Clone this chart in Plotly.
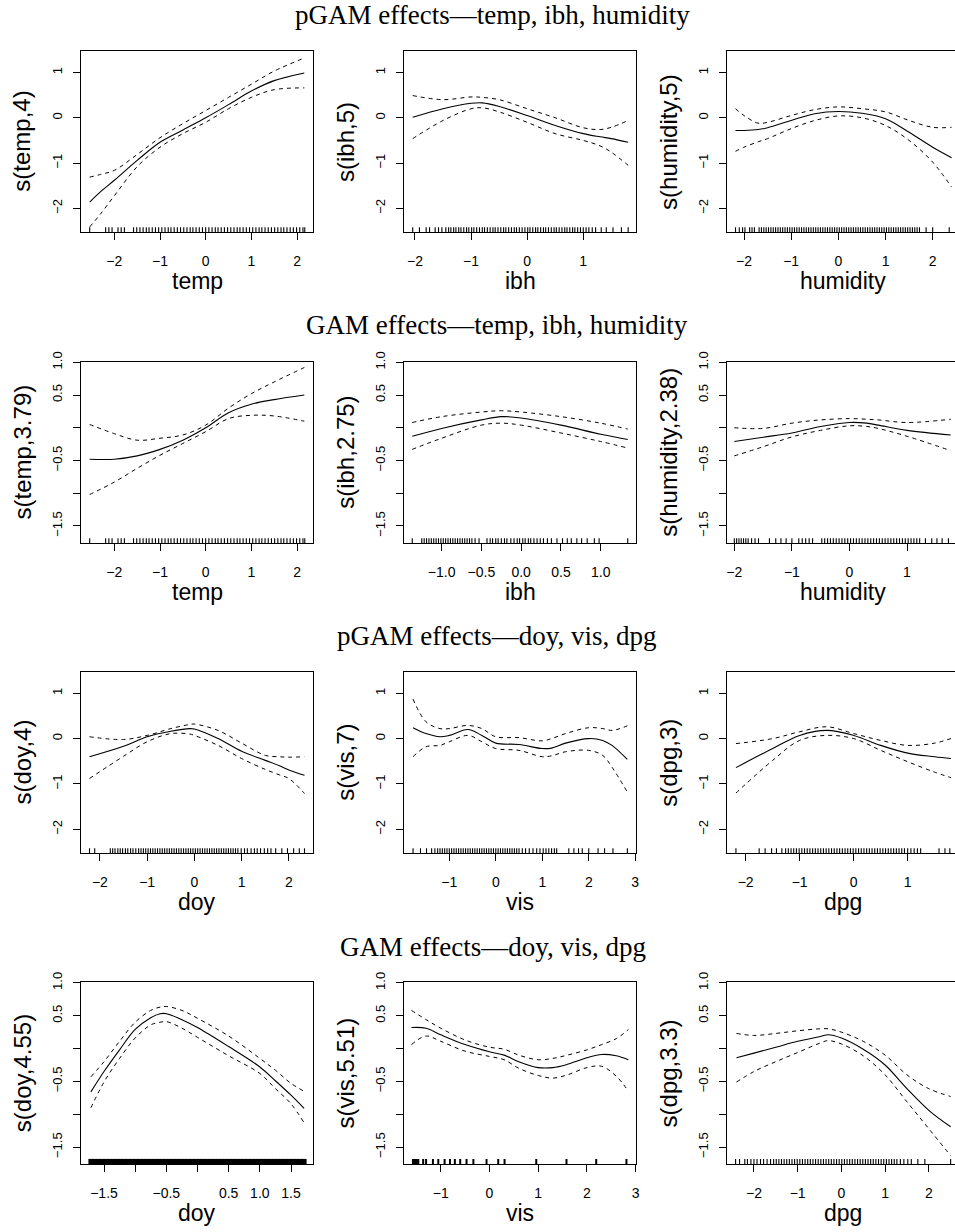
import plotly.graph_objects as go

W, H = 955, 1232

# ---------------- titles / labels ----------------
row_titles = ["pGAM effects\u2014temp, ibh, humidity",
              "GAM effects\u2014temp, ibh, humidity",
              "pGAM effects\u2014doy, vis, dpg",
              "GAM effects\u2014doy, vis, dpg"]
x_labels = [["temp", "ibh", "humidity"], ["temp", "ibh", "humidity"],
            ["doy", "vis", "dpg"], ["doy", "vis", "dpg"]]
y_labels = [["s(temp,4)", "s(ibh,5)", "s(humidity,5)"],
            ["s(temp,3.79)", "s(ibh,2.75)", "s(humidity,2.38)"],
            ["s(doy,4)", "s(vis,7)", "s(dpg,3)"],
            ["s(doy,4.55)", "s(vis,5.51)", "s(dpg,3.3)"]]

# ---------------- tick values ----------------
y_ticks_pgam = [-2, -1, 0, 1]
y_ticktext_pgam = ["\u22122", "\u22121", "0", "1"]
y_ticks_gam = [-1.5, -1.0, -0.5, 0.0, 0.5, 1.0]
y_ticktext_gam = ["\u22121.5", "", "\u22120.5", "", "0.5", "1.0"]

# ---------------- row 1: pGAM temp, ibh, humidity ----------------
temp_p_x = [-2.54, -2.3, -2.0, -1.5, -1.0, -0.5, 0.0, 0.5, 1.0, 1.5, 2.16]
temp_p_fit = [-1.86, -1.63, -1.38, -0.94, -0.54, -0.27, 0.0, 0.29, 0.59, 0.82, 0.99]
temp_p_up = [-1.31, -1.25, -1.16, -0.81, -0.44, -0.13, 0.16, 0.45, 0.74, 1.03, 1.32]
temp_p_lo = [-2.41, -2.12, -1.72, -1.08, -0.65, -0.35, -0.10, 0.20, 0.45, 0.62, 0.66]

ibh_p_x = [-2.04, -1.5, -1.0, -0.8, -0.5, 0.0, 0.5, 1.0, 1.3, 1.5, 1.8]
ibh_p_fit = [0.01, 0.20, 0.32, 0.33, 0.25, 0.05, -0.17, -0.35, -0.42, -0.46, -0.54]
ibh_p_up = [0.49, 0.40, 0.46, 0.45, 0.40, 0.20, 0.0, -0.22, -0.26, -0.21, -0.06]
ibh_p_lo = [-0.46, -0.06, 0.20, 0.22, 0.13, -0.10, -0.35, -0.50, -0.62, -0.76, -1.05]

hum_p_x = [-2.18, -2.0, -1.7, -1.5, -1.0, -0.5, 0.0, 0.5, 1.0, 1.5, 2.0, 2.4]
hum_p_fit = [-0.28, -0.28, -0.26, -0.22, -0.06, 0.09, 0.14, 0.10, -0.02, -0.32, -0.65, -0.88]
hum_p_up = [0.20, 0.05, -0.12, -0.10, 0.05, 0.18, 0.24, 0.20, 0.13, -0.06, -0.21, -0.21]
hum_p_lo = [-0.74, -0.65, -0.53, -0.46, -0.24, -0.06, 0.04, 0.0, -0.17, -0.50, -0.98, -1.53]

# ---------------- row 2: GAM temp, ibh, humidity ----------------
temp_g_x = [-2.54, -2.0, -1.5, -1.0, -0.5, 0.0, 0.5, 1.0, 1.5, 2.16]
temp_g_fit = [-0.48, -0.48, -0.43, -0.33, -0.19, 0.0, 0.23, 0.36, 0.43, 0.50]
temp_g_up = [0.05, -0.09, -0.19, -0.16, -0.11, 0.04, 0.30, 0.52, 0.70, 0.92]
temp_g_lo = [-1.02, -0.83, -0.62, -0.42, -0.24, -0.06, 0.14, 0.19, 0.18, 0.10]

ibh_g_x = [-1.37, -1.0, -0.5, -0.25, 0.0, 0.5, 1.0, 1.34]
ibh_g_fit = [-0.13, -0.01, 0.12, 0.17, 0.15, 0.04, -0.10, -0.18]
ibh_g_up = [0.08, 0.17, 0.24, 0.26, 0.24, 0.17, 0.07, -0.02]
ibh_g_lo = [-0.33, -0.16, 0.04, 0.07, 0.04, -0.08, -0.21, -0.31]

hum_g_x = [-2.0, -1.5, -1.0, -0.5, 0.0, 0.3, 0.5, 1.0, 1.76]
hum_g_fit = [-0.21, -0.145, -0.08, 0.02, 0.08, 0.07, 0.04, -0.04, -0.11]
hum_g_up = [0.0, -0.01, 0.07, 0.12, 0.14, 0.13, 0.12, 0.08, 0.13]
hum_g_lo = [-0.43, -0.29, -0.14, -0.04, 0.03, 0.02, -0.01, -0.13, -0.35]

# ---------------- row 3: pGAM doy, vis, dpg ----------------
doy_p_x = [-2.22, -1.5, -1.0, -0.5, -0.1, 0.0, 0.5, 1.0, 1.5, 1.8, 2.0, 2.33]
doy_p_fit = [-0.40, -0.17, 0.04, 0.16, 0.22, 0.21, 0.0, -0.28, -0.48, -0.60, -0.69, -0.81]
doy_p_up = [0.04, -0.02, 0.07, 0.22, 0.31, 0.32, 0.18, -0.10, -0.37, -0.40, -0.41, -0.40]
doy_p_lo = [-0.88, -0.39, -0.07, 0.11, 0.10, 0.07, -0.15, -0.44, -0.68, -0.80, -0.88, -1.21]

vis_p_x = [-1.78, -1.5, -1.2, -1.0, -0.6, -0.3, 0.0, 0.5, 1.0, 1.2, 1.5, 2.0, 2.3, 2.5, 2.83]
vis_p_fit = [0.24, 0.11, 0.04, 0.07, 0.20, 0.07, -0.10, -0.13, -0.22, -0.21, -0.10, 0.0, -0.04, -0.15, -0.46]
vis_p_up = [0.87, 0.37, 0.22, 0.22, 0.29, 0.22, 0.04, 0.02, -0.05, 0.0, 0.11, 0.24, 0.22, 0.18, 0.28]
vis_p_lo = [-0.40, -0.18, -0.15, -0.07, 0.07, -0.07, -0.22, -0.26, -0.40, -0.38, -0.29, -0.26, -0.37, -0.63, -1.18]

dpg_p_x = [-2.18, -1.5, -1.0, -0.5, 0.0, 0.5, 1.0, 1.5, 1.8]
dpg_p_fit = [-0.64, -0.22, 0.07, 0.18, 0.07, -0.15, -0.32, -0.40, -0.44]
dpg_p_up = [-0.11, 0.0, 0.15, 0.26, 0.11, -0.04, -0.15, -0.10, 0.0]
dpg_p_lo = [-1.20, -0.48, -0.04, 0.07, 0.0, -0.26, -0.51, -0.74, -0.86]

# ---------------- row 4: GAM doy, vis, dpg ----------------
doy_g_x = [-1.71, -1.5, -1.25, -1.0, -0.75, -0.6, -0.5, -0.25, 0.0, 0.5, 1.0, 1.25, 1.5, 1.71]
doy_g_fit = [-0.66, -0.35, -0.02, 0.29, 0.47, 0.53, 0.53, 0.44, 0.32, 0.03, -0.28, -0.49, -0.71, -0.91]
doy_g_up = [-0.43, -0.20, 0.11, 0.40, 0.58, 0.63, 0.64, 0.58, 0.46, 0.19, -0.15, -0.33, -0.53, -0.65]
doy_g_lo = [-0.90, -0.51, -0.15, 0.16, 0.36, 0.40, 0.41, 0.31, 0.17, -0.11, -0.38, -0.61, -0.84, -1.13]

vis_g_x = [-1.6, -1.3, -1.0, -0.5, 0.0, 0.3, 0.6, 1.0, 1.3, 1.6, 2.0, 2.3, 2.6, 2.85]
vis_g_fit = [0.32, 0.31, 0.21, 0.06, -0.05, -0.10, -0.20, -0.29, -0.29, -0.24, -0.14, -0.09, -0.11, -0.17]
vis_g_up = [0.58, 0.44, 0.31, 0.13, 0.02, -0.01, -0.10, -0.17, -0.15, -0.10, -0.02, 0.06, 0.15, 0.29]
vis_g_lo = [0.06, 0.19, 0.11, -0.04, -0.12, -0.17, -0.30, -0.41, -0.45, -0.40, -0.29, -0.27, -0.42, -0.65]

dpg_g_x = [-2.4, -2.0, -1.5, -1.0, -0.5, -0.3, 0.0, 0.5, 1.0, 1.5, 2.0, 2.5]
dpg_g_fit = [-0.14, -0.07, 0.02, 0.11, 0.18, 0.21, 0.16, -0.01, -0.25, -0.61, -0.94, -1.19]
dpg_g_up = [0.23, 0.20, 0.23, 0.27, 0.30, 0.30, 0.25, 0.11, -0.10, -0.40, -0.61, -0.73]
dpg_g_lo = [-0.51, -0.35, -0.20, -0.06, 0.08, 0.12, 0.07, -0.11, -0.40, -0.81, -1.22, -1.63]

# ---------------- rug (observed covariate values) ----------------
rug_temp = [-2.54, -2.19, -2.12, -2.05, -1.92, -1.85, -1.78, -1.58, -1.51, -1.44, -1.37, -1.30,
            -1.24, -1.17, -1.10, -1.03, -0.96, -0.89, -0.82, -0.76, -0.69, -0.62, -0.55, -0.48,
            -0.41, -0.34, -0.28, -0.21, -0.14, -0.07, 0.00, 0.07, 0.14, 0.21, 0.27, 0.34, 0.41,
            0.48, 0.55, 0.62, 0.69, 0.75, 0.82, 0.89, 0.96, 1.03, 1.10, 1.17, 1.23, 1.30, 1.37,
            1.44, 1.51, 1.58, 1.65, 1.71, 1.78, 1.85, 1.92, 1.99, 2.06, 2.13, 2.17]
rug_ibh_p = [-2.04, -1.92, -1.80, -1.74, -1.64, -1.58, -1.52, -1.45, -1.40, -1.36, -1.31, -1.27,
             -1.22, -1.18, -1.13, -1.08, -1.04, -0.99, -0.95, -0.90, -0.85, -0.80, -0.76, -0.71,
             -0.66, -0.61, -0.57, -0.52, -0.47, -0.42, -0.38, -0.33, -0.28, -0.23, -0.19, -0.14,
             -0.09, -0.04, 0.01, 0.05, 0.10, 0.15, 0.19, 0.24, 0.29, 0.33, 0.38, 0.43, 0.48, 0.52,
             0.57, 0.62, 0.67, 0.71, 0.76, 0.81, 0.85, 0.90, 0.95, 1.00, 1.05, 1.10, 1.16, 1.22,
             1.32, 1.41, 1.53, 1.68, 1.80]
rug_hum_p = [-2.18, -2.10, -2.03, -1.98, -1.88, -1.83, -1.78, -1.68, -1.63, -1.58, -1.53, -1.48,
             -1.43, -1.38, -1.33, -1.28, -1.23, -1.18, -1.13, -1.08, -1.03, -0.98, -0.93, -0.88,
             -0.83, -0.78, -0.73, -0.68, -0.63, -0.58, -0.53, -0.48, -0.43, -0.38, -0.33, -0.28,
             -0.23, -0.18, -0.13, -0.08, -0.03, 0.02, 0.07, 0.12, 0.17, 0.22, 0.27, 0.32, 0.37,
             0.42, 0.47, 0.52, 0.57, 0.62, 0.67, 0.72, 0.77, 0.82, 0.87, 0.92, 0.97, 1.02, 1.07,
             1.12, 1.17, 1.22, 1.27, 1.32, 1.37, 1.42, 1.47, 1.52, 1.57, 1.62, 1.67, 1.72, 1.86,
             2.00, 2.35]
rug_ibh_g = [-1.37, -1.25, -1.22, -1.19, -1.16, -1.13, -1.10, -1.07, -1.04, -1.01, -0.98, -0.95,
             -0.92, -0.89, -0.86, -0.83, -0.80, -0.77, -0.74, -0.71, -0.68, -0.65, -0.62, -0.58,
             -0.53, -0.43, -0.39, -0.36, -0.32, -0.29, -0.25, -0.21, -0.18, -0.13, -0.09, -0.05,
             -0.02, 0.02, 0.05, 0.09, 0.12, 0.16, 0.20, 0.24, 0.28, 0.33, 0.38, 0.45, 0.52, 0.58,
             0.63, 0.70, 0.76, 0.83, 0.92, 0.98, 1.34]
rug_hum_g = [-2.00, -1.96, -1.92, -1.88, -1.84, -1.80, -1.76, -1.70, -1.64, -1.58, -1.39, -1.28,
             -1.19, -1.10, -1.00, -0.88, -0.82, -0.76, -0.70, -0.64, -0.48, -0.43, -0.38, -0.33,
             -0.28, -0.23, -0.18, -0.13, -0.08, -0.03, 0.02, 0.07, 0.12, 0.17, 0.22, 0.27, 0.32,
             0.37, 0.42, 0.47, 0.52, 0.57, 0.62, 0.67, 0.72, 0.77, 0.82, 0.87, 0.92, 0.97, 1.02,
             1.07, 1.12, 1.17, 1.22, 1.32, 1.43, 1.52, 1.61, 1.72]
rug_doy_p = [-2.22, -2.11, -1.78, -1.73, -1.68, -1.62, -1.57, -1.52, -1.46, -1.41, -1.35, -1.30,
             -1.24, -1.18, -1.13, -1.08, -1.03, -0.98, -0.93, -0.88, -0.83, -0.78, -0.73, -0.68,
             -0.63, -0.58, -0.53, -0.48, -0.43, -0.38, -0.33, -0.28, -0.23, -0.18, -0.13, -0.08,
             -0.03, 0.02, 0.07, 0.12, 0.17, 0.22, 0.27, 0.32, 0.37, 0.42, 0.47, 0.52, 0.57, 0.62,
             0.67, 0.72, 0.77, 0.82, 0.87, 0.92, 0.99, 1.06, 1.12, 1.20, 1.27, 1.33, 1.40, 1.48,
             1.55, 1.62, 1.72, 1.85, 1.97, 2.10, 2.22, 2.33]
rug_vis_p = [-1.78, -1.62, -1.49, -1.38, -1.31, -1.25, -1.20, -1.15, -1.10, -1.05, -1.00, -0.95,
             -0.90, -0.85, -0.80, -0.75, -0.70, -0.65, -0.60, -0.55, -0.50, -0.45, -0.40, -0.35,
             -0.30, -0.25, -0.20, -0.15, -0.10, -0.05, 0.00, 0.05, 0.10, 0.15, 0.20, 0.25, 0.30,
             0.35, 0.40, 0.45, 0.50, 0.57, 0.64, 0.72, 0.80, 0.88, 0.95, 1.02, 1.08, 1.14, 1.20,
             1.26, 1.31, 1.57, 1.68, 1.78, 1.86, 2.00, 2.20, 2.34, 2.52, 2.83]
rug_dpg_p = [-2.18, -1.75, -1.64, -1.52, -1.43, -1.33, -1.26, -1.21, -1.16, -1.11, -1.06, -1.01,
             -0.96, -0.91, -0.86, -0.81, -0.76, -0.71, -0.66, -0.61, -0.56, -0.51, -0.46, -0.41,
             -0.36, -0.31, -0.26, -0.21, -0.16, -0.11, -0.06, -0.01, 0.04, 0.09, 0.14, 0.19, 0.24,
             0.29, 0.34, 0.39, 0.44, 0.49, 0.54, 0.59, 0.64, 0.69, 0.74, 0.79, 0.84, 0.89, 0.94,
             1.00, 1.06, 1.12, 1.18, 1.24, 1.58, 1.69, 1.78]
rug_doy_g = [-1.71, -1.65, -1.59, -1.53, -1.47, -1.41, -1.35, -1.29, -1.23, -1.17, -1.11, -1.05,
             -0.99, -0.93, -0.87, -0.81, -0.75, -0.69, -0.63, -0.57, -0.51, -0.45, -0.39, -0.33,
             -0.27, -0.21, -0.15, -0.09, -0.03, 0.03, 0.09, 0.15, 0.21, 0.27, 0.33, 0.39, 0.45,
             0.51, 0.57, 0.63, 0.69, 0.75, 0.81, 0.87, 0.93, 0.99, 1.05, 1.11, 1.17, 1.23, 1.29,
             1.35, 1.41, 1.47, 1.53, 1.59, 1.65, 1.71]
rug_vis_g = [-1.57, -1.55, -1.53, -1.51, -1.49, -1.46, -1.36, -1.30, -1.16, -1.05, -0.92, -0.81,
             -0.71, -0.60, -0.47, -0.33, -0.06, 0.18, 0.31, 0.96, 1.58, 2.19, 2.81]
rug_dpg_g = [-2.42, -2.33, -2.21, -2.15, -2.07, -2.00, -1.93, -1.85, -1.78, -1.70, -1.62, -1.55,
             -1.49, -1.43, -1.37, -1.31, -1.25, -1.19, -1.13, -1.07, -1.01, -0.95, -0.89, -0.83,
             -0.77, -0.71, -0.65, -0.59, -0.53, -0.47, -0.41, -0.35, -0.29, -0.23, -0.17, -0.11,
             -0.05, 0.01, 0.07, 0.13, 0.19, 0.25, 0.31, 0.37, 0.43, 0.49, 0.55, 0.61, 0.67, 0.73,
             0.79, 0.85, 0.91, 0.97, 1.03, 1.09, 1.15, 1.21, 1.27, 1.35, 1.43, 1.52, 1.60, 1.75,
             1.91, 2.50]

# ---------------- panel specs (style/layout, separate from data) ----------------
curves = [
    [(temp_p_x, temp_p_fit, temp_p_up, temp_p_lo, rug_temp),
     (ibh_p_x, ibh_p_fit, ibh_p_up, ibh_p_lo, rug_ibh_p),
     (hum_p_x, hum_p_fit, hum_p_up, hum_p_lo, rug_hum_p)],
    [(temp_g_x, temp_g_fit, temp_g_up, temp_g_lo, rug_temp),
     (ibh_g_x, ibh_g_fit, ibh_g_up, ibh_g_lo, rug_ibh_g),
     (hum_g_x, hum_g_fit, hum_g_up, hum_g_lo, rug_hum_g)],
    [(doy_p_x, doy_p_fit, doy_p_up, doy_p_lo, rug_doy_p),
     (vis_p_x, vis_p_fit, vis_p_up, vis_p_lo, rug_vis_p),
     (dpg_p_x, dpg_p_fit, dpg_p_up, dpg_p_lo, rug_dpg_p)],
    [(doy_g_x, doy_g_fit, doy_g_up, doy_g_lo, rug_doy_g),
     (vis_g_x, vis_g_fit, vis_g_up, vis_g_lo, rug_vis_g),
     (dpg_g_x, dpg_g_fit, dpg_g_up, dpg_g_lo, rug_dpg_g)],
]

x_ranges = [[[-2.73, 2.35], [-2.19, 1.94], [-2.354, 2.473]],
            [[-2.73, 2.35], [-1.47, 1.444], [-2.122, 1.834]],
            [[-2.40, 2.51], [-1.968, 3.016], [-2.34, 1.876]],
            [[-1.869, 1.853], [-1.747, 3.006], [-2.61, 2.60]]]
x_tickvals = [[[-2, -1, 0, 1, 2], [-2, -1, 0, 1], [-2, -1, 0, 1, 2]],
              [[-2, -1, 0, 1, 2], [-1.0, -0.5, 0.0, 0.5, 1.0], [-2, -1, 0, 1]],
              [[-2, -1, 0, 1, 2], [-1, 0, 1, 2, 3], [-2, -1, 0, 1]],
              [[-1.5, -1.0, -0.5, 0.0, 0.5, 1.0, 1.5], [-1, 0, 1, 2, 3], [-2, -1, 0, 1, 2]]]
x_ticktexts = [[["\u22122", "\u22121", "0", "1", "2"], ["\u22122", "\u22121", "0", "1"],
                ["\u22122", "\u22121", "0", "1", "2"]],
               [["\u22122", "\u22121", "0", "1", "2"],
                ["\u22121.0", "\u22120.5", "0.0", "0.5", "1.0"],
                ["\u22122", "\u22121", "0", "1"]],
               [["\u22122", "\u22121", "0", "1", "2"], ["\u22121", "0", "1", "2", "3"],
                ["\u22122", "\u22121", "0", "1"]],
               [["\u22121.5", "", "\u22120.5", "", "0.5", "1.0", "1.5"],
                ["\u22121", "0", "1", "2", "3"], ["\u22122", "\u22121", "0", "1", "2"]]]
y_ranges = [[-2.528, 1.474], [-1.765, 1.009], [-2.528, 1.474], [-1.757, 1.008]]
rug_widths = [[1.1, 1.1, 1.1], [1.1, 1.1, 1.1], [1.1, 1.1, 1.1], [5, 2, 1.1]]

col_px = [(81, 313), (404.3, 636), (727.3, 955)]
row_px = [(51, 232.3), (361.7, 543.3), (671.7, 853.3), (982.3, 1164)]
title_cx = [492.5, 497, 496, 493]
title_cy = [15, 325.5, 636, 946.5]

SANS = "Liberation Sans, Arial, Helvetica, sans-serif"
SERIF = "Liberation Serif, Times New Roman, serif"

fig = go.Figure()
layout = dict(template="none", width=W, height=H, autosize=False,
              margin=dict(l=0, r=0, t=0, b=0, pad=0),
              paper_bgcolor="white", plot_bgcolor="white", showlegend=False,
              font=dict(family=SANS, color="black"))
annotations = []

n = 0
for r in range(4):
    top, bot = row_px[r]
    ydom = [1 - bot / H, 1 - top / H]
    for c in range(3):
        n += 1
        left, right = col_px[c]
        xdom = [left / W, min(right / W, 1.0)]
        xs, fit, up, lo, rug = curves[r][c]
        xref = "x" if n == 1 else f"x{n}"
        yref = "y" if n == 1 else f"y{n}"
        common = dict(xaxis=xref, yaxis=yref, mode="lines", hoverinfo="skip", showlegend=False)
        fig.add_trace(go.Scatter(x=xs, y=up, line=dict(color="black", width=1, dash="4px,4px",
                                                       shape="spline", smoothing=1.0), **common))
        fig.add_trace(go.Scatter(x=xs, y=lo, line=dict(color="black", width=1, dash="4px,4px",
                                                       shape="spline", smoothing=1.0), **common))
        fig.add_trace(go.Scatter(x=xs, y=fit, line=dict(color="black", width=1.1,
                                                        shape="spline", smoothing=1.0), **common))
        y0, y1 = y_ranges[r]
        rug_top = y0 + 0.028 * (y1 - y0)
        rx, ry = [], []
        for v in rug:
            rx += [v, v, None]
            ry += [y0, rug_top, None]
        fig.add_trace(go.Scatter(x=rx, y=ry, line=dict(color="black", width=rug_widths[r][c]),
                                 **common))

        if r % 2 == 0:
            ytv, ytt = y_ticks_pgam, y_ticktext_pgam
        else:
            ytv, ytt = y_ticks_gam, y_ticktext_gam

        layout["xaxis" if n == 1 else f"xaxis{n}"] = dict(
            domain=xdom, anchor=yref, range=x_ranges[r][c], showgrid=False, zeroline=False,
            automargin=False,
            showline=True, mirror=True, linecolor="black", linewidth=1,
            ticks="outside", ticklen=7, tickwidth=1, tickcolor="black",
            tickvals=x_tickvals[r][c], ticktext=x_ticktexts[r][c],
            tickfont=dict(family=SANS, size=14, color="black"), ticklabelstandoff=9)
        layout["yaxis" if n == 1 else f"yaxis{n}"] = dict(
            domain=ydom, anchor=xref, range=y_ranges[r], showgrid=False, zeroline=False,
            automargin=False,
            showline=True, mirror=(c < 2), linecolor="black", linewidth=1,
            ticks="outside", ticklen=7, tickwidth=1, tickcolor="black",
            tickvals=ytv, ticktext=ytt, tickangle=-90,
            tickfont=dict(family=SANS, size=13, color="black"), ticklabelstandoff=6)

        annotations.append(dict(text=x_labels[r][c], xref="paper", yref="paper",
                                x=(left + (left + 232)) / 2 / W, y=1 - (bot + 49) / H,
                                xanchor="center", yanchor="middle", showarrow=False,
                                font=dict(family=SANS, size=23, color="black")))
        annotations.append(dict(text=y_labels[r][c], xref="paper", yref="paper",
                                x=(left - 59) / W, y=1 - ((top + bot) / 2) / H,
                                xanchor="center", yanchor="middle", showarrow=False,
                                textangle=-90,
                                font=dict(family=SANS, size=24, color="black")))
    annotations.append(dict(text=row_titles[r], xref="paper", yref="paper",
                            x=title_cx[r] / W, y=1 - title_cy[r] / H,
                            xanchor="center", yanchor="middle", showarrow=False,
                            font=dict(family=SERIF, size=27, color="black")))

layout["annotations"] = annotations
fig.update_layout(**layout)
fig.write_html(
    "out.html", config={"displayModeBar": False, "responsive": False},
    post_script=("document.documentElement.style.margin='0px';"
                 "document.documentElement.style.overflow='hidden';"
                 "document.body.style.margin='0px';document.body.style.padding='0px';"
                 "document.body.style.overflow='hidden';"
                 "var gd=document.getElementsByClassName('plotly-graph-div')[0];"
                 "gd.style.position='absolute';gd.style.top='0px';gd.style.left='0px';"))
